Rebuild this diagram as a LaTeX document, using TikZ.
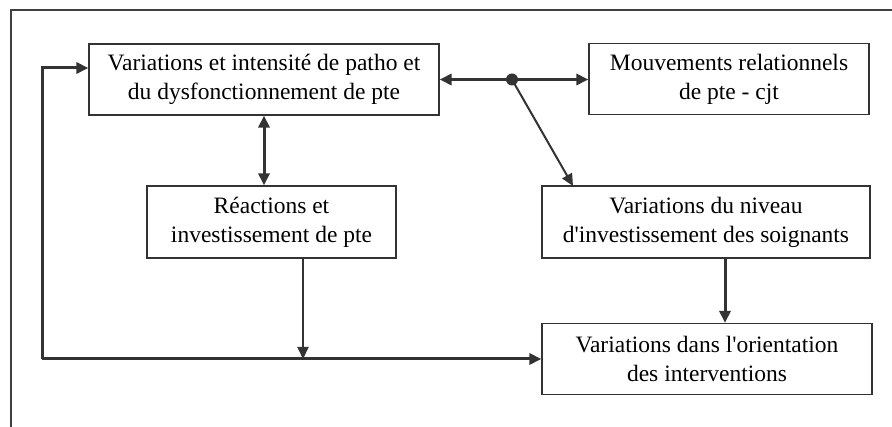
\documentclass[tikz,border=0pt]{standalone}
\usepackage{fontspec}
\setmainfont{Liberation Serif}
\usetikzlibrary{arrows.meta,calc}
\begin{document}
\begin{tikzpicture}[x=1pt,y=-1pt,
  box/.style={draw=black!80,line width=1.2pt,align=center,inner sep=0pt,
    font=\fontsize{23.5}{29}\selectfont},
  thick link/.style={draw=black!80,line width=3pt,
    -{Triangle[length=12pt,width=11pt]}},
  thin link/.style={draw=black!80,line width=2pt,
    -{Triangle[length=12pt,width=11pt]}},
  frame/.style={draw=black!75,line width=1.3pt}]
\useasboundingbox (0,0) rectangle (892,427);

% outer frame (top and left sides)
\draw[frame] (892,10) -- (11,10) -- (11,427);

% boxes
\node[box,minimum width=350pt,minimum height=71pt] (A) at (264,79.5)
  {Variations et intensité de patho et\\du dysfonctionnement de pte};
\node[box,minimum width=280pt,minimum height=71pt] (B) at (729,79)
  {Mouvements relationnels\\de pte - cjt};
\node[box,minimum width=249pt,minimum height=72pt] (C) at (271.5,222)
  {Réactions et\\investissement de pte};
\node[box,minimum width=328pt,minimum height=72pt] (D) at (706,222)
  {Variations du niveau\\d\textquotesingle investissement des soignants};
\node[box,minimum width=330pt,minimum height=71pt] (E) at (707,359)
  {Variations dans l\textquotesingle orientation\\des interventions};

% junction points
\coordinate (dot) at (512,79.5);
\coordinate (join) at (303,359);
\coordinate (back) at (42,359);
\coordinate (dtop) at (573,186);

% A <-> B through the junction dot
\draw[thick link] (dot) -- (A.east);
\draw[thick link] (dot) -- (B.west |- dot);
\fill[black!80] (dot) circle (6pt);
\draw[thin link] (dot) -- (dtop);

% A <-> C
\draw[thick link,{Triangle[length=12pt,width=11pt]}-{Triangle[length=12pt,width=11pt]}]
  (A.south) -- (A.south |- C.north);

% C down to the bottom line
\draw[thin link] (C.south -| join) -- (join);

% D -> E
\draw[thick link] (D.south -| 725,0) -- (E.north -| 725,0);

% bottom line into E, and feedback to A
\draw[thick link] (back) -- (E.west);
\draw[thick link] (back) -- (42,68) -- (A.west |- 0,68);
\end{tikzpicture}
\end{document}
